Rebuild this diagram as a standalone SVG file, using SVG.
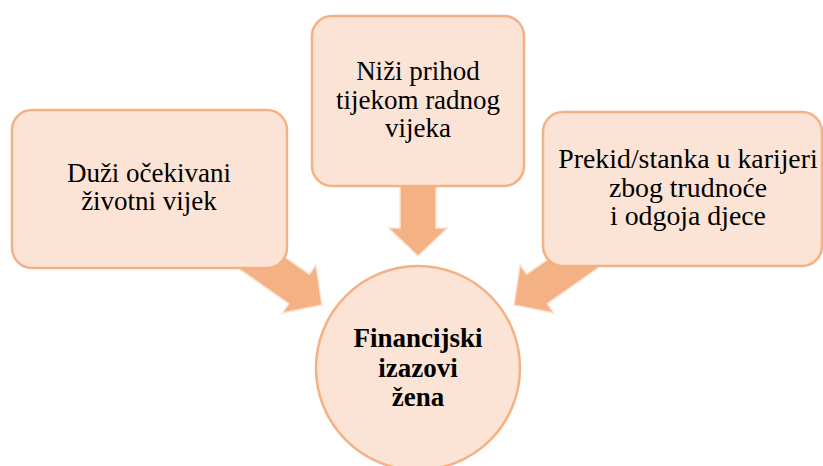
<svg xmlns="http://www.w3.org/2000/svg" width="823" height="466" viewBox="0 0 823 466">
<defs>
<style>
.box{fill:#FBE4D5;stroke:#F4B183;stroke-width:2.5}
.arrow{fill:#F4B183;stroke:#FBE4D5;stroke-width:1.5;stroke-linejoin:miter}
text{font-family:'Liberation Serif','DejaVu Serif',serif;font-size:27px;fill:#000;text-anchor:middle}
.big{font-size:27.8px}
.b{font-weight:bold}
</style>
<polygon id="arr" points="-18,-90 18,-90 18,-28 29.5,-28 0,0 -29.5,-28 -18,-28"/>
</defs>
<rect width="823" height="466" fill="#ffffff"/>
<g id="connectors">
<use href="#arr" class="arrow" transform="translate(322,305) rotate(-55)"/>
<use href="#arr" class="arrow" transform="translate(418,256)"/>
<use href="#arr" class="arrow" transform="translate(514,305) rotate(55)"/>
</g>
<g id="node-left">
<rect class="box" x="12" y="110" width="275" height="158" rx="20"/>
<text x="149" y="182">Duži očekivani</text>
<text x="149" y="210">životni vijek</text>
</g>
<g id="node-middle">
<rect class="box" x="312" y="16" width="212" height="170" rx="20"/>
<text x="418" y="80">Niži prihod</text>
<text x="418" y="108.5">tijekom radnog</text>
<text x="418" y="137">vijeka</text>
</g>
<g id="node-right">
<rect class="box" x="543" y="112" width="279" height="154" rx="20"/>
<text class="big" x="688" y="168">Prekid/stanka u karijeri</text>
<text class="big" x="688" y="196.5">zbog trudnoće</text>
<text class="big" x="688" y="225">i odgoja djece</text>
</g>
<g id="node-center">
<circle class="box" cx="418" cy="368" r="102"/>
<text class="b" x="418" y="347">Financijski</text>
<text class="b" x="418" y="377">izazovi</text>
<text class="b" x="418" y="406">žena</text>
</g>
</svg>
